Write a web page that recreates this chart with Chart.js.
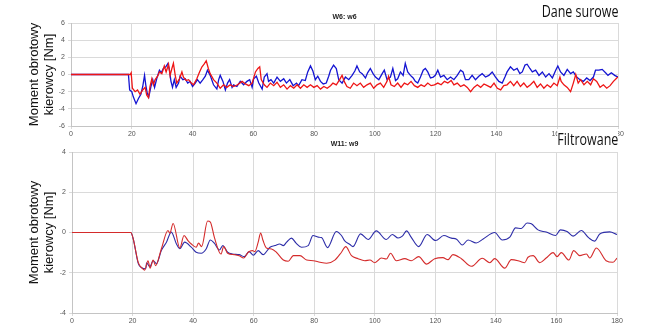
<!DOCTYPE html>
<html lang="pl">
<head>
<meta charset="utf-8">
<title>Moment obrotowy kierowcy</title>
<script src="https://cdn.jsdelivr.net/npm/chart.js@4.4.1/dist/chart.umd.min.js"></script>
<style>
  html, body { margin: 0; padding: 0; background: #fff; }
  #wrap { position: relative; width: 650px; height: 327px; overflow: hidden; }
  #wrap canvas { position: absolute; left: 0; }
  #rawChart { top: 0; }
  #filtChart { top: 130px; }
  .tag {
    position: absolute; right: 32px;
    font-family: 'Open Sans', sans-serif; font-size: 16px; line-height: 20px;
    color: #111; background: #fff; white-space: nowrap;
    transform: scaleX(0.78); transform-origin: right center;
  }
  #tagRaw { top: 1px; }
  #tagFilt { top: 129px; }
</style>
</head>
<body>
<div id="wrap">
  <canvas id="rawChart" width="650" height="140"></canvas>
  <canvas id="filtChart" width="650" height="197"></canvas>
  <div class="tag" id="tagRaw">Dane surowe</div>
  <div class="tag" id="tagFilt">Filtrowane</div>
</div>
<script>
// --- raw signal (W6: w6), time [s] / torque [Nm]
const rawBlueTime = [0,18.9,19.3,20,20.5,21.4,22.2,23,23.6,24.2,24.6,25.1,25.6,26.3,26.9,27.5,28.2,29.1,29.7,30.4,31.2,31.9,32.4,32.9,33.4,34,34.6,35.4,35.9,36.8,37.6,38.4,39.2,40,40.9,41.6,42.5,43.4,44.2,44.9,45.8,46.9,48,48.6,49.1,50,50.8,51.5,52.2,53,53.5,54.6,55.7,56.8,57.9,58.8,59.6,60.1,61,61.8,62.9,63.6,64.5,65,65.8,66.7,67.8,68.9,70,70.9,72,73.1,74.2,74.9,76,77.1,77.9,78.8,79.6,80.4,81.2,82.1,83,84,84.8,85.4,86.4,87.3,88.1,89.2,90.3,91.4,92.5,93.4,94.1,95,95.8,96.9,97.6,98.5,99.4,100.2,101.3,102.4,103.1,104,105.1,105.9,106.8,107.5,108.4,109.3,110,110.8,111.7,112.6,113.3,114.1,115,115.9,116.6,117.4,118.3,119.2,119.9,120.7,121.6,122.7,123.8,124.9,126,127.1,128.2,129,129.8,130.9,132,133.1,134.2,135.3,136.4,137.5,138.6,139.7,140.8,141.9,142.8,143.5,144.6,145.7,146.8,147.7,148.5,149.4,150.1,151,151.8,152.9,154,155.1,156.2,157.3,158.4,159.5,160.2,161.1,162.2,163.3,164.4,165.3,166.4,167.5,168.6,169.7,170.8,171.9,172.6,173.7,174.8,175.9,176.7,177.8,178.9,180];
const rawBlue = [0,0,-1.8,-2.0,-2.6,-3.4,-2.8,-2.3,-1.4,-0.1,-1.2,-2.2,-2.6,-1.4,-0.6,-1.5,-0.5,0.5,0.2,0.7,0.9,1.3,0.5,-0.8,-1.5,-0.6,-1.5,-1.0,-0.2,-0.6,-0.5,-1.0,-0.8,-1.4,-1.0,-0.6,-1.0,-0.6,-0.2,0.5,-0.1,-1.2,-1.7,-0.6,-0.1,-0.8,-1.8,-1.0,-0.6,-1.5,-1.2,-1.4,-0.8,-1.2,-0.8,-0.6,-1.5,-0.5,-0.2,-1.0,-1.7,-0.3,0.1,-0.8,-0.6,-1.0,-0.3,-0.8,-0.5,-1.0,-0.6,-1.3,-1.0,-1.3,-0.6,-0.7,0.3,1.0,0.4,-0.6,-0.2,-0.8,-1.1,-1.0,-0.2,0.5,1.1,0.7,-0.6,-1.0,-0.3,-0.6,-0.1,0.4,1.0,0.3,0.1,-0.4,0.2,0.7,0.1,-0.3,-0.6,0.1,0.5,-0.6,-0.3,0.7,-0.7,-0.5,0.3,-0.1,1.3,0.3,-0.1,-0.4,-0.8,-1.0,-0.3,0.5,0.7,0.3,-0.4,-0.3,-0.1,0.5,-0.3,-0.1,-0.6,-0.3,-0.6,-0.1,0.5,0.3,-0.6,-0.6,-0.1,-0.6,-0.2,0.1,-0.3,-0.1,0.3,-0.3,-0.8,-1.0,-0.3,0.3,0.9,0.5,0.7,0.1,0.3,1.1,1.2,0.7,0.3,0.5,-0.1,0.3,-0.3,0.1,-0.4,0.5,1.0,0.3,-0.1,0.6,0.1,0.3,-0.3,-0.6,-0.8,-0.4,-0.7,-0.3,0.5,0.5,0.6,0.2,-0.1,0.2,-0.1,-0.3];

const rawRedTime = [0,19.5,19.8,20.2,21.1,21.9,22.7,23.6,24.4,24.9,25.5,26,26.6,27.1,27.7,28.5,29.1,29.9,30.7,31.3,32.1,32.6,33.2,33.7,34.3,34.8,35.7,36.5,37,37.9,38.7,39.6,40.3,41.4,42.3,43.1,43.8,44.5,45.2,45.8,46.9,48,49.1,50.2,51.3,52.4,53.5,54.8,56.3,57.4,58.5,59.6,60.7,61.5,62.1,62.6,63.6,64.5,65.6,66.7,67.8,68.9,70,71.1,72.2,73.3,74.4,75.5,76.6,77.7,78.8,79.9,81,82.1,83.2,84.3,85.4,86.2,87.3,88.4,89.2,89.9,90.8,91.9,93,94.1,95.2,96.3,97.4,98.5,99.6,100.7,101.8,102.9,104,104.5,105.3,106.4,107.5,108.6,109.7,110.8,111.9,113,114.1,115.2,116.3,117.4,118.5,119.6,120.7,121.8,122.9,124,125.1,126,127.1,128.2,129.3,130.4,131.5,132.6,133.7,134.8,135.9,137,138.1,139.2,140.3,141.4,142.4,143.5,144.6,145.7,146.8,147.9,149,150.1,151.2,152.3,153.4,154.5,155.6,156.7,157.8,158.9,160,160.9,161.3,162.2,163.3,164.4,165.3,166.1,166.9,167.7,168.8,169.9,171,171.9,173,174.1,175.2,176.3,177.4,178.5,179.6,180];
const rawRed = [0,0,0.2,-1.6,-2.0,-1.8,-2.3,-1.8,-1.5,-2.4,-2.7,-1.4,-0.5,-1.2,-0.6,-0.2,0.3,0.1,1.0,0.3,1.2,-0.1,0.7,1.3,-0.1,-1.0,-0.5,0.3,-0.3,-0.7,-0.6,-1.0,-1.2,-0.5,0.3,0.9,1.2,1.6,0.7,0.1,-0.6,-1.0,-1.6,-1.2,-1.5,-1.2,-1.4,-1.2,-0.8,-1.1,-1.3,-1.0,0.3,0.7,0.9,-0.6,-1.2,-1.5,-1.0,-1.3,-0.9,-1.5,-1.2,-1.7,-1.3,-1.6,-1.2,-1.6,-1.2,-1.5,-1.2,-1.5,-1.3,-1.7,-1.4,-1.6,-1.3,-1.0,-1.2,-0.6,-0.1,-0.8,-1.4,-1.6,-1.0,-1.3,-1.0,-1.5,-1.2,-1.0,-1.6,-1.2,-1.0,-1.5,-0.8,-0.2,-1.2,-1.4,-1.0,-1.5,-1.0,-1.2,-0.8,-1.3,-1.5,-1.2,-1.4,-1.0,-1.3,-1.2,-1.0,-1.2,-0.8,-1.0,-0.7,-1.2,-1.0,-1.4,-1.2,-1.5,-2.0,-1.5,-1.2,-1.5,-1.1,-1.3,-1.5,-1.0,-1.6,-1.8,-1.3,-1.2,-0.8,-1.3,-0.8,-1.4,-1.0,-1.5,-1.2,-0.8,-1.5,-1.1,-1.6,-1.2,-1.5,-1.0,-1.3,-0.3,-0.8,-1.2,-1.5,-2.0,-1.0,0.0,-1.0,-0.6,-1.2,-0.8,-1.2,-0.5,-0.8,-1.5,-1.2,-1.6,-1.3,-0.8,-0.4,-0.3];

// --- filtered signal (W11: w9)
const filtBlueTime = [0,19.4,20.2,21.9,23,24.4,24.6,25.7,26.8,27.9,29.5,31.2,32.8,34.5,35.6,37.2,39.4,41,42.7,44.3,45.7,47,48.7,49.8,51.4,53,55.2,56.9,58.5,59.9,61.5,63.1,65.4,67,68.6,69.8,70.9,72.5,74,75.8,78,79.6,81.3,82.4,84.4,87.3,89,90,91.8,92.8,95.3,97.8,100.5,103.8,105.8,107.7,109.1,110.5,112,114.5,117.3,120.1,122.8,125.3,127,128.9,130.8,133.5,135.8,139.6,142.1,144.6,146.5,148.4,150.3,151.7,153.9,156.6,159.7,161.3,163.5,165.5,168.2,170.7,172.6,174.3,177.6,180];
const filtBlue = [0,0,-0.3,-1.55,-1.75,-1.8,-1.5,-1.7,-1.4,-1.55,-0.9,-0.48,0.02,-0.57,-0.8,-0.48,-0.73,-0.98,-1.03,-0.82,-0.37,-0.53,-0.87,-0.65,-0.98,-1.07,-1.1,-1.2,-0.95,-1.13,-0.9,-1.1,-0.73,-0.65,-0.57,-0.65,-0.48,-0.28,-0.53,-0.73,-0.65,-0.15,-0.23,-0.25,-0.75,0.05,-0.15,-0.4,-0.6,-0.7,-0.07,-0.35,0.08,-0.35,-0.1,-0.27,-0.18,0.08,-0.23,-0.7,-0.1,-0.4,-0.15,-0.28,-0.33,-0.62,-0.37,-0.52,-0.32,0.0,-0.37,-0.23,0.23,0.2,0.47,0.43,0.13,0.02,-0.15,0.13,0.05,-0.18,0.1,-0.27,-0.43,-0.07,0.03,-0.1];

const filtRedTime = [0,19.4,20.2,21.9,23,24,25.1,25.8,26.8,27.6,29.5,31.7,32.3,33.4,35.6,37,38.3,39.4,41,41.8,42.8,44.8,45.7,47,49.2,50.1,51.4,53.6,55.2,56.7,58.2,59.6,60.4,61.5,62.3,63.1,64.2,65.9,67.5,69.8,71.4,73.1,75.3,77.5,79.7,81.9,84.1,86.8,89,90.4,92.3,94.5,96.7,98.4,100,102.2,103.8,105.2,107.1,109.9,112.1,114.5,117.1,119.8,122.5,124.2,125.8,128.6,131.9,135.5,138,139.6,142.9,145.1,147.9,149.5,150.6,152.3,154.5,156.6,158.9,160.2,161.6,164.1,165.7,167.7,169.9,171,173.2,176.4,178.7,180];
const filtRed = [0,0,-0.3,-1.5,-1.75,-1.87,-1.4,-1.77,-1.37,-1.65,-0.82,0.1,-0.03,0.45,-0.77,-0.15,-0.4,-0.57,-0.73,-0.53,-0.7,0.57,0.52,-0.23,-1.07,-0.7,-1.03,-1.1,-1.15,-1.27,-0.98,-0.9,-0.95,-0.48,-0.03,-0.4,-0.77,-0.82,-0.98,-1.37,-1.43,-1.15,-1.15,-1.37,-1.4,-1.48,-1.53,-1.37,-0.98,-0.7,-1.15,-1.3,-1.4,-1.37,-1.5,-1.27,-1.32,-1.03,-1.4,-1.3,-1.4,-1.2,-1.57,-1.3,-1.25,-1.35,-1.1,-1.3,-1.68,-1.28,-1.5,-1.3,-1.77,-1.35,-1.43,-1.5,-1.23,-1.15,-1.5,-1.27,-1.0,-1.2,-1.0,-1.37,-0.9,-1.15,-1.07,-1.27,-0.77,-1.4,-1.48,-1.27];

const xTicks = [0, 20, 40, 60, 80, 100, 120, 140, 160, 180];
const yTitle = ['Moment obrotowy', 'kierowcy [Nm]'];

function pairs(t, v) {
  return t.map((x, i) => ({ x: x, y: v[i] }));
}

// small bold caption centred over the plot area
const panelTitle = {
  id: 'panelTitle',
  afterDraw(chart, args, opts) {
    const { ctx, chartArea } = chart;
    ctx.save();
    ctx.font = 'bold 7px "Liberation Sans", Arial, sans-serif';
    ctx.fillStyle = '#222';
    ctx.textAlign = 'center';
    ctx.textBaseline = 'bottom';
    ctx.fillText(opts.text, (chartArea.left + chartArea.right) / 2, chartArea.top - opts.gap);
    ctx.restore();
  }
};

function makeChart(id, cfg) {
  const line = (t, v, color) => ({
    data: pairs(t, v),
    borderColor: color,
    borderWidth: cfg.width,
    pointRadius: 0,
    tension: cfg.tension,
    cubicInterpolationMode: cfg.smooth ? 'monotone' : 'default',
    fill: false
  });
  return new Chart(document.getElementById(id), {
    type: 'line',
    data: {
      datasets: [
        line(cfg.redT, cfg.red, cfg.redColor),
        line(cfg.blueT, cfg.blue, cfg.blueColor)
      ]
    },
    options: {
      responsive: false,
      animation: false,
      layout: { padding: { top: cfg.padTop, right: cfg.padRight, left: 0, bottom: 0 } },
      plugins: {
        legend: { display: false },
        tooltip: { enabled: false },
        panelTitle: { text: cfg.title, gap: cfg.titleGap }
      },
      scales: {
        x: {
          type: 'linear',
          min: 0, max: 180,
          afterBuildTicks: function(scale) { scale.ticks = xTicks.map(v => ({ value: v })); },
          afterFit: function(scale) { scale.height = 14; },
          grid: { color: '#dadada', tickLength: 3 },
          border: { color: '#c4c4c4' },
          ticks: { color: '#555', padding: 1, maxRotation: 0, font: { size: 7, family: 'Liberation Sans' } }
        },
        y: {
          min: cfg.yMin, max: cfg.yMax,
          ticks: { stepSize: 2, color: '#555', padding: 3, font: { size: 7, family: 'Liberation Sans' } },
          afterFit: function(scale) { scale.width = cfg.yWidth; },
          grid: { color: '#dadada', tickLength: 3 },
          border: { color: '#c4c4c4' },
          title: {
            display: true,
            text: yTitle,
            color: '#111',
            padding: { top: 27, bottom: 0 },
            font: { size: 13, family: 'Liberation Sans', lineHeight: 1.15 }
          }
        }
      }
    },
    plugins: [panelTitle]
  });
}

makeChart('rawChart', {
  redT: rawRedTime, red: rawRed, blueT: rawBlueTime, blue: rawBlue,
  redColor: '#ee1515', blueColor: '#1414d2', width: 1.3, tension: 0, smooth: false,
  yMin: -6, yMax: 6, yWidth: 71, padTop: 23, padRight: 32,
  title: 'W6: w6', titleGap: 2
});

makeChart('filtChart', {
  redT: filtRedTime, red: filtRed, blueT: filtBlueTime, blue: filtBlue,
  redColor: '#d42b2b', blueColor: '#2d2da8', width: 1.1, tension: 0.4, smooth: true,
  yMin: -4, yMax: 4, yWidth: 72, padTop: 22, padRight: 33,
  title: 'W11: w9', titleGap: 4
});
</script>
</body>
</html>
